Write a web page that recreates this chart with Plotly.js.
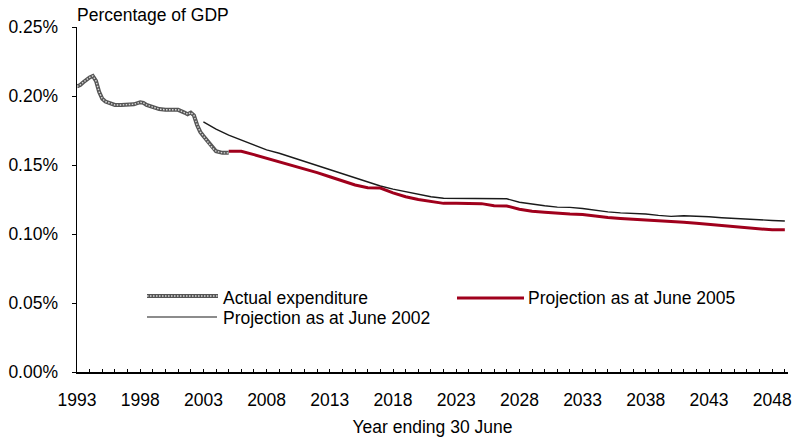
<!DOCTYPE html>
<html>
<head>
<meta charset="utf-8">
<script src="https://cdn.plot.ly/plotly-3.0.1.min.js"></script>
<style>html,body{margin:0;padding:0;background:#fff}#chart{width:793px;height:438px}</style>
</head>
<body>
<div id="chart"></div>
<script>
// Actual expenditure (% of GDP), years ending 30 June
var actualYears = [1993.0,1993.25,1993.5,1993.75,1994.0,1994.25,1994.5,1994.75,1995.0,1995.25,1995.5,1995.75,1996.0,1996.5,1997.0,1997.5,1998.0,1998.25,1998.5,1999.0,1999.5,2000.0,2000.5,2001.0,2001.5,2001.75,2002.0,2002.25,2002.5,2002.75,2003.0,2003.25,2003.5,2003.75,2004.0,2004.5,2005.0];
var actualValues = [0.207,0.208,0.210,0.212,0.2135,0.2145,0.211,0.203,0.198,0.196,0.195,0.194,0.1935,0.1935,0.1935,0.194,0.1955,0.195,0.1935,0.192,0.1905,0.190,0.190,0.190,0.188,0.1868,0.188,0.186,0.179,0.174,0.171,0.168,0.165,0.162,0.160,0.1588,0.1588];

// Projection as at June 2005
var proj2005Years = [2005,2006,2007,2008,2009,2010,2011,2012,2013,2014,2015,2016,2017,2018,2019,2020,2021,2022,2023,2024,2025,2026,2027,2028,2029,2030,2031,2032,2033,2034,2035,2036,2037,2038,2039,2040,2041,2042,2043,2044,2045,2046,2047,2048,2049];
var proj2005Values = [0.160,0.160,0.1575,0.155,0.1525,0.150,0.1475,0.1445,0.1415,0.1385,0.1355,0.1335,0.1333,0.1298,0.127,0.125,0.1235,0.1222,0.1222,0.1222,0.1220,0.1205,0.1203,0.118,0.1165,0.1157,0.115,0.1145,0.1142,0.113,0.112,0.1113,0.1108,0.1105,0.110,0.1093,0.1085,0.1078,0.107,0.1063,0.1055,0.1048,0.1038,0.1030,0.1030];

// Projection as at June 2002
var proj2002Years = [2003,2004,2005,2006,2007,2008,2009,2010,2011,2012,2013,2014,2015,2016,2017,2018,2019,2020,2021,2022,2023,2024,2025,2026,2027,2028,2029,2030,2031,2032,2033,2034,2035,2036,2037,2038,2039,2040,2041,2042,2043,2044,2045,2046,2047,2048,2049];
var proj2002Values = [0.1812,0.176,0.1717,0.168,0.1645,0.161,0.1585,0.1555,0.1525,0.1495,0.1465,0.1435,0.1405,0.1380,0.1348,0.1325,0.1305,0.1285,0.127,0.1259,0.1259,0.1259,0.1259,0.1259,0.1255,0.123,0.1215,0.1205,0.1195,0.1193,0.1185,0.117,0.116,0.1153,0.115,0.1145,0.1135,0.1128,0.1132,0.1130,0.1125,0.1118,0.1112,0.1106,0.1102,0.1098,0.1094];

var seriesNames = ['Actual expenditure','Projection as at June 2005','Projection as at June 2002'];
var xTitle = 'Year ending 30 June';
var yTitle = 'Percentage of GDP';

var FONT = 'Arial, "Liberation Sans", sans-serif';
var FS = 17.5;
var RED = '#a0001c';
var GREY = '#555555';
var CHAIN = '#d8d8d8';

var traces = [
  {x: proj2002Years, y: proj2002Values, mode:'lines', name: seriesNames[2], line:{color:'#1a1a1a', width:1.4}, hoverinfo:'x+y'},
  {x: proj2005Years, y: proj2005Values, mode:'lines', name: seriesNames[1], line:{color:RED, width:3}, hoverinfo:'x+y'},
  {x: actualYears, y: actualValues, mode:'lines', name: seriesNames[0], line:{color:GREY, width:4}, hoverinfo:'x+y'},
  {x: actualYears, y: actualValues, mode:'lines', name: seriesNames[0], line:{color:CHAIN, width:1.4, dash:'1.5px,1.5px'}, hoverinfo:'skip'}
];

// legend drawn in paper coordinates
var L = 77, W = 711, T = 27, H = 345;
function px(x){return (x - L)/W;}
function py(y){return (T + H - y)/H;}

var shapes = [
  {type:'line', xref:'paper', yref:'paper', x0:px(147), x1:px(218), y0:py(296), y1:py(296), line:{color:GREY, width:4}},
  {type:'line', xref:'paper', yref:'paper', x0:px(147), x1:px(218), y0:py(296), y1:py(296), line:{color:CHAIN, width:1.4, dash:'1.5px,1.5px'}},
  {type:'line', xref:'paper', yref:'paper', x0:px(457), x1:px(524), y0:py(298), y1:py(298), line:{color:RED, width:3}},
  {type:'line', xref:'paper', yref:'paper', x0:px(147), x1:px(217), y0:py(317), y1:py(317), line:{color:'#1a1a1a', width:1.2}}
];
var legFont = {family:FONT, size:FS, color:'#000'};
var annotations = [
  {xref:'paper', yref:'paper', x:px(221), y:py(298), text:seriesNames[0], showarrow:false, xanchor:'left', yanchor:'middle', font:legFont},
  {xref:'paper', yref:'paper', x:px(526), y:py(298), text:seriesNames[1], showarrow:false, xanchor:'left', yanchor:'middle', font:legFont},
  {xref:'paper', yref:'paper', x:px(221), y:py(318), text:seriesNames[2], showarrow:false, xanchor:'left', yanchor:'middle', font:legFont}
];

var layout = {
  width: 793, height: 438,
  margin: {l: L, r: 5, t: T, b: 66},
  paper_bgcolor:'#fff', plot_bgcolor:'#fff',
  showlegend: false,
  font: {family: FONT, size: FS, color:'#000'},
  title: {text: yTitle, x: L/793, xanchor:'left', y: 1 - 15/438, yanchor:'middle', xref:'container', yref:'container', font:{family:FONT, size:FS, color:'#000'}},
  xaxis: {
    range: [1993, 2049.25], tick0: 1993, dtick: 5, tickformat:'d',
    ticks:'inside', ticklen:3, tickcolor:'#000', tickwidth:1,
    minor: {dtick:1, tick0:1993, ticks:'inside', ticklen:3, tickcolor:'#000', tickwidth:1, showgrid:false},
    showline:true, linecolor:'#000', linewidth:1.5, showgrid:false, zeroline:false,
    ticklabelstandoff: 11,
    tickfont:{family:FONT, size:FS, color:'#000'},
    title:{text:xTitle, standoff: 12, font:{family:FONT, size:FS, color:'#000'}}
  },
  yaxis: {
    range: [0, 0.25], dtick: 0.05, tickformat:'.2f', ticksuffix:'%',
    ticks:'outside', ticklen:4, tickcolor:'#000', tickwidth:1,
    showline:true, linecolor:'#000', linewidth:1.5, showgrid:false, zeroline:false,
    ticklabelstandoff: 10,
    tickfont:{family:FONT, size:FS, color:'#000'}
  },
  shapes: shapes,
  annotations: annotations
};

Plotly.newPlot('chart', traces, layout, {staticPlot:true, displayModeBar:false});
</script>
</body>
</html>
